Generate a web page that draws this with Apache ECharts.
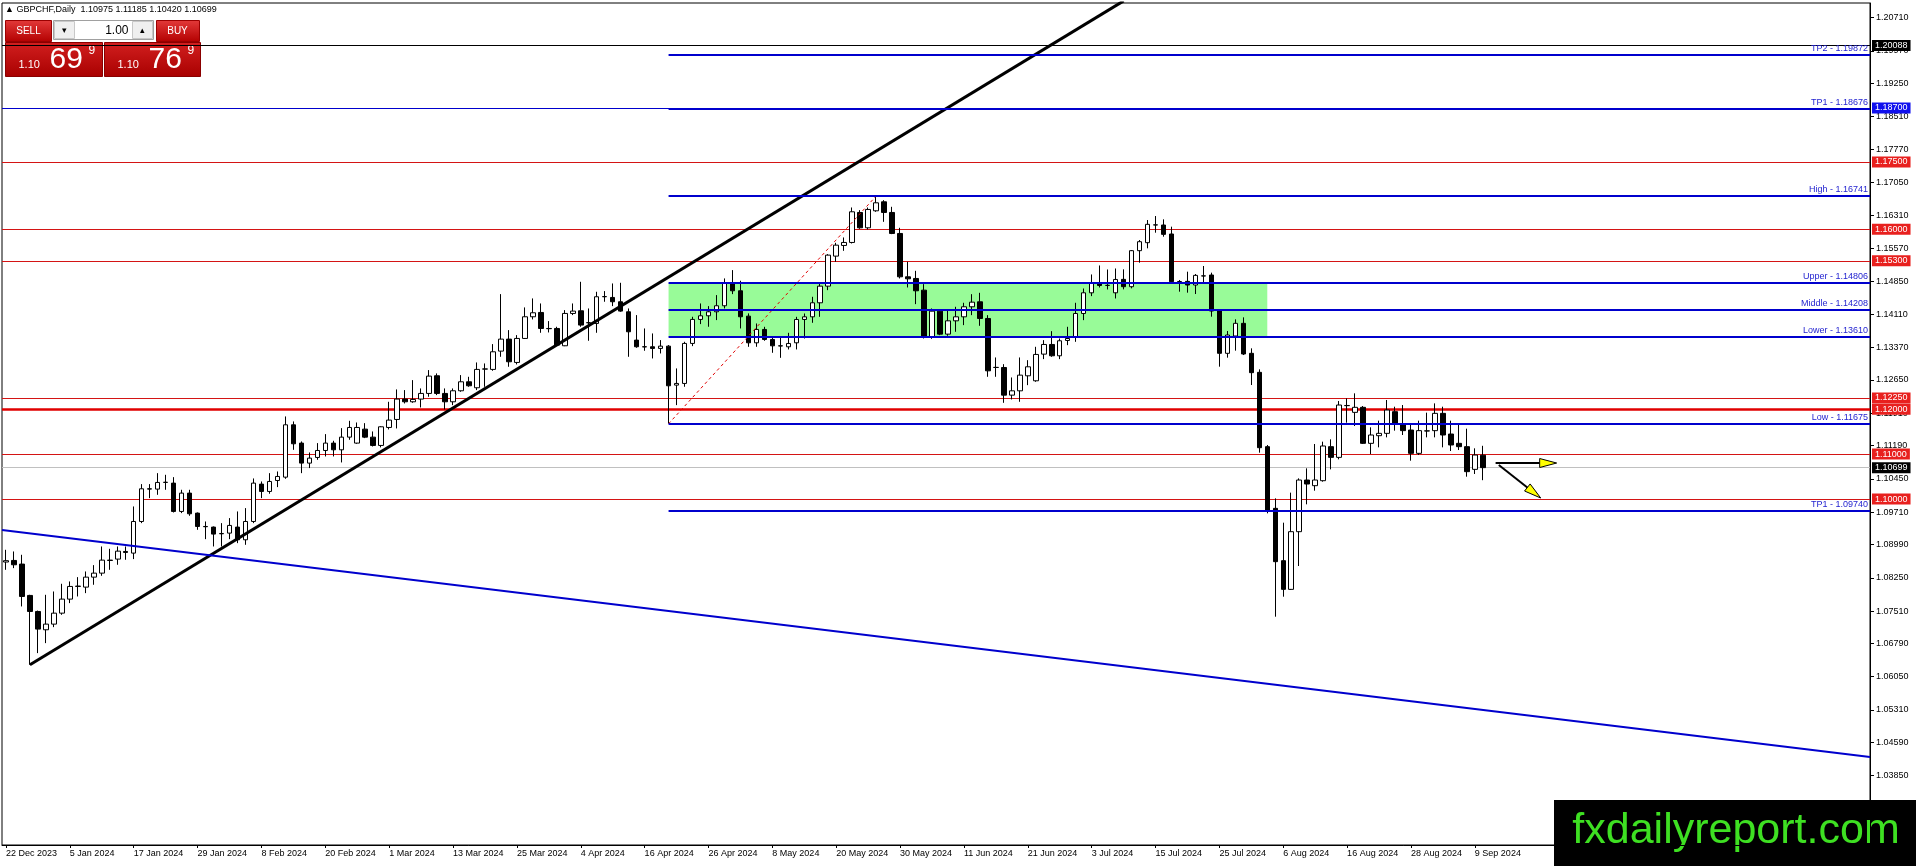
<!DOCTYPE html>
<html><head><meta charset="utf-8">
<script src="https://cdn.jsdelivr.net/npm/echarts@6.0.0/dist/echarts.min.js"></script>
<style>html,body{margin:0;padding:0;background:#fff;overflow:hidden}#c{width:1916px;height:866px}</style>
</head><body><div id="c"></div>
<script>
const symbolName = 'GBPCHF,Daily';
const lastOHLC = [1.10975, 1.11185, 1.10420, 1.10699];
const sellQuote = ['1.10', '69', '9'];
const buyQuote = ['1.10', '76', '9'];
const lotSize = '1.00';
const tickLabels = ['22 Dec 2023','5 Jan 2024','17 Jan 2024','29 Jan 2024','8 Feb 2024','20 Feb 2024','1 Mar 2024','13 Mar 2024','25 Mar 2024','4 Apr 2024','16 Apr 2024','26 Apr 2024','8 May 2024','20 May 2024','30 May 2024','11 Jun 2024','21 Jun 2024','3 Jul 2024','15 Jul 2024','25 Jul 2024','6 Aug 2024','16 Aug 2024','28 Aug 2024','9 Sep 2024'];
const priceTicks = [1.20710,1.19970,1.19250,1.18510,1.17770,1.17050,1.16310,1.15570,1.14850,1.14110,1.13370,1.12650,1.11910,1.11190,1.10450,1.09710,1.08990,1.08250,1.07510,1.06790,1.06050,1.05310,1.04590,1.03850];

const opens = [1.08600,1.08635,1.08554,1.07857,1.07500,1.07093,1.07219,1.07463,1.07775,1.08057,1.08042,1.08264,1.08353,1.08642,1.08665,1.08835,1.08798,1.09502,1.10229,1.10222,1.10370,1.10355,1.09725,1.10133,1.09688,1.09391,1.09377,1.09228,1.09243,1.09377,1.09095,1.09502,1.10333,1.10170,1.10414,1.10488,1.11652,1.11245,1.10800,1.10926,1.11081,1.11245,1.11096,1.11378,1.11245,1.11556,1.11378,1.11193,1.11593,1.11771,1.12224,1.12164,1.12224,1.12350,1.12743,1.12350,1.12164,1.12409,1.12609,1.12476,1.12891,1.12884,1.13291,1.13558,1.13039,1.13573,1.14055,1.14151,1.13795,1.13795,1.13410,1.14129,1.14188,1.13921,1.13907,1.14500,1.14485,1.14389,1.14166,1.13536,1.13388,1.13388,1.13351,1.13402,1.12535,1.12572,1.13462,1.13996,1.14077,1.14166,1.14300,1.14796,1.14633,1.14069,1.13476,1.13773,1.13550,1.13409,1.13387,1.13476,1.13995,1.14054,1.14366,1.14736,1.15404,1.15641,1.15708,1.16375,1.16034,1.16412,1.16612,1.16375,1.15908,1.14944,1.14907,1.14647,1.13609,1.14180,1.13669,1.13965,1.14054,1.14277,1.14388,1.14017,1.12927,1.12927,1.12312,1.12408,1.12742,1.12631,1.13224,1.13439,1.13187,1.13528,1.13609,1.14128,1.14588,1.14796,1.14751,1.14588,1.14887,1.14724,1.15525,1.15703,1.16096,1.16096,1.15896,1.14836,1.14843,1.14761,1.14962,1.14984,1.14191,1.13242,1.13627,1.13909,1.13242,1.12819,1.11166,1.09794,1.08630,1.07992,1.09275,1.10424,1.10298,1.10409,1.11166,1.10928,1.12078,1.11929,1.12041,1.11240,1.11410,1.11462,1.11944,1.11670,1.11536,1.11017,1.11514,1.11522,1.11907,1.11447,1.11240,1.11166,1.10661,1.10975];
const closes = [1.08630,1.08539,1.07834,1.07500,1.07108,1.07219,1.07463,1.07775,1.08057,1.08065,1.08264,1.08353,1.08642,1.08635,1.08842,1.08813,1.09502,1.10229,1.10222,1.10370,1.10375,1.09725,1.10133,1.09673,1.09391,1.09385,1.09221,1.09235,1.09414,1.09095,1.09502,1.10355,1.10170,1.10392,1.10503,1.11652,1.11230,1.10800,1.10911,1.11081,1.11245,1.11096,1.11378,1.11593,1.11593,1.11378,1.11193,1.11608,1.11757,1.12224,1.12164,1.12216,1.12350,1.12735,1.12350,1.12164,1.12409,1.12609,1.12520,1.12884,1.12895,1.13276,1.13558,1.13054,1.13573,1.14055,1.14144,1.13795,1.13790,1.13425,1.14129,1.14181,1.13870,1.13925,1.14500,1.14505,1.14389,1.14181,1.13721,1.13388,1.13385,1.13351,1.13402,1.12520,1.12572,1.13462,1.13996,1.14077,1.14166,1.14300,1.14796,1.14633,1.14055,1.13476,1.13773,1.13550,1.13409,1.13405,1.13461,1.13995,1.14054,1.14366,1.14736,1.15426,1.15648,1.15708,1.16390,1.16034,1.16442,1.16590,1.16375,1.15908,1.14944,1.14899,1.14633,1.13609,1.14180,1.13669,1.13965,1.14054,1.14277,1.14380,1.14017,1.12853,1.12930,1.12312,1.12408,1.12757,1.12942,1.13217,1.13439,1.13187,1.13521,1.13572,1.14128,1.14588,1.14810,1.14751,1.14755,1.14885,1.14724,1.15525,1.15725,1.16111,1.16100,1.15888,1.14836,1.14840,1.14761,1.14976,1.14965,1.14183,1.13242,1.13649,1.13909,1.13227,1.12812,1.11143,1.09742,1.08608,1.07992,1.09275,1.10424,1.10335,1.10424,1.11181,1.10928,1.12092,1.12082,1.12041,1.11240,1.11425,1.11462,1.11981,1.11670,1.11522,1.11017,1.11522,1.11518,1.11907,1.11425,1.11203,1.11166,1.10610,1.10980,1.10699];
const lows = [1.08427,1.08464,1.07612,1.06314,1.06574,1.06796,1.07152,1.07426,1.07686,1.07834,1.07908,1.08094,1.08294,1.08427,1.08539,1.08650,1.08665,1.09465,1.10021,1.10095,1.10207,1.09702,1.09688,1.09628,1.09317,1.09109,1.08946,1.08946,1.09109,1.09020,1.08983,1.09465,1.10021,1.10118,1.10266,1.10451,1.11096,1.10577,1.10689,1.10874,1.10948,1.10948,1.10815,1.11319,1.11230,1.11356,1.11170,1.11150,1.11549,1.11571,1.12127,1.12142,1.12038,1.12276,1.12313,1.11994,1.12090,1.12387,1.12498,1.12424,1.12498,1.12854,1.13165,1.12943,1.12995,1.13560,1.13996,1.13699,1.13706,1.13402,1.13402,1.14092,1.13833,1.13521,1.13699,1.14389,1.14292,1.14166,1.13165,1.13365,1.13299,1.13128,1.13239,1.11682,1.12090,1.12498,1.13402,1.13892,1.13833,1.13981,1.14240,1.14559,1.13795,1.13387,1.13387,1.13521,1.13254,1.13142,1.13328,1.13328,1.13572,1.13921,1.14054,1.14647,1.15278,1.15522,1.15685,1.16012,1.15997,1.16390,1.16167,1.15893,1.14907,1.14707,1.14336,1.13572,1.13565,1.13646,1.13632,1.13721,1.13869,1.14091,1.13854,1.12720,1.12720,1.12141,1.12216,1.12164,1.12534,1.12609,1.13113,1.13165,1.13113,1.13424,1.13498,1.13980,1.14514,1.14707,1.14662,1.14462,1.14665,1.14687,1.15258,1.15577,1.15925,1.15836,1.14813,1.14613,1.14591,1.14561,1.14813,1.14057,1.12945,1.13145,1.13301,1.13204,1.12537,1.11032,1.09683,1.07384,1.07829,1.07978,1.08511,1.09883,1.10187,1.10387,1.10661,1.10884,1.11699,1.11625,1.11225,1.11003,1.11151,1.11373,1.11522,1.11425,1.10854,1.10980,1.11373,1.11373,1.11151,1.11069,1.11091,1.10498,1.10558,1.10420];
const highs = [1.08872,1.08835,1.08761,1.07871,1.07520,1.07871,1.07945,1.08116,1.08168,1.08264,1.08390,1.08531,1.08946,1.08894,1.08946,1.08946,1.09836,1.10333,1.10333,1.10577,1.10540,1.10488,1.10207,1.10207,1.09702,1.09502,1.09391,1.09465,1.09577,1.09725,1.09799,1.10459,1.10392,1.10577,1.10614,1.11838,1.11727,1.11282,1.11037,1.11245,1.11445,1.11297,1.11578,1.11741,1.11704,1.11689,1.11504,1.11620,1.12164,1.12439,1.12424,1.12646,1.12461,1.12869,1.12795,1.12461,1.12461,1.12758,1.12720,1.13039,1.13017,1.13447,1.14559,1.13758,1.13647,1.14263,1.14463,1.14351,1.13959,1.13833,1.14203,1.14351,1.14833,1.14240,1.14611,1.14626,1.14796,1.14811,1.14240,1.14092,1.13795,1.13684,1.13536,1.13425,1.12906,1.13499,1.14055,1.14351,1.14292,1.14537,1.14908,1.15093,1.14856,1.14130,1.13906,1.13832,1.13606,1.13606,1.13698,1.14054,1.14128,1.14499,1.14796,1.15448,1.15700,1.15819,1.16486,1.16427,1.16486,1.16738,1.16649,1.16501,1.16034,1.15278,1.15077,1.14781,1.14240,1.14188,1.14188,1.14277,1.14366,1.14558,1.14588,1.14091,1.13150,1.13001,1.12705,1.13150,1.13090,1.13387,1.13535,1.13735,1.13572,1.13832,1.14366,1.14684,1.14996,1.15196,1.15107,1.15129,1.15110,1.15540,1.15762,1.16207,1.16296,1.16222,1.16059,1.14873,1.15058,1.15006,1.15184,1.15036,1.14220,1.13738,1.13998,1.14042,1.13353,1.12886,1.11203,1.10016,1.09475,1.10143,1.10461,1.10684,1.11225,1.11277,1.11329,1.12181,1.12241,1.12352,1.12070,1.11596,1.11744,1.12204,1.12055,1.12092,1.11670,1.11744,1.11922,1.12129,1.12055,1.11744,1.11670,1.11566,1.11129,1.11185];

const redLevels = [1.17500, 1.16000, 1.15300, 1.12250, 1.11000, 1.10000];
const strongRedLevel = 1.12000;
const blackLevel = 1.20088;
const blueLevel = 1.18700;
const bidPrice = 1.10699;
const fibNames = ['TP2', 'TP1', 'High', 'Upper', 'Middle', 'Lower', 'Low', 'TP1'];
const fibValues = [1.19872, 1.18676, 1.16741, 1.14806, 1.14208, 1.13610, 1.11675, 1.09740];
const fibAnchor = [[83, 1.11675], [109, 1.16741]];
const zoneX = [83, 158];
const zoneY = [1.13610, 1.14806];
const riseTrend = [[3, 1.06314], [140, 1.21081]];
const fallTrend = [[-0.5, 1.09312], [233.5, 1.04265]];
const arrows = [[186.6, 1.10802, 194.25, 1.10802], [187, 1.10758, 192.25, 1.10024]];
const totalSlots = 234;
const yMin = 1.02306, yMax = 1.21034;

const FONT = "'Liberation Sans', Arial, sans-serif";
const categories = Array.from({length: totalSlots}, (_, i) => String(i));
const showTick = (i) => i % 8 === 0 && i / 8 < tickLabels.length;
const candles = opens.map((o, i) => [o, closes[i], lows[i], highs[i]]);
const xMax = totalSlots - 0.5;

function box(bg) {
  return {show: true, position: 'end', distance: 2, formatter: p => Number(p.value).toFixed(5),
    color: '#fff', backgroundColor: bg, padding: [1, 3, 0, 3], fontSize: 9, fontFamily: FONT, lineHeight: 10};
}
const fullLines = [];
redLevels.forEach(v => fullLines.push({yAxis: v, lineStyle: {color: '#d41414', width: 1, type: 'solid'}, label: box('#e8201e')}));
fullLines.push({yAxis: strongRedLevel, lineStyle: {color: '#e00000', width: 2.5, type: 'solid'}, label: box('#e8201e')});
fullLines.push({yAxis: blackLevel, lineStyle: {color: '#000', width: 1, type: 'solid'}, label: box('#000')});
fullLines.push({yAxis: blueLevel, lineStyle: {color: '#0000cd', width: 1, type: 'solid'}, label: box('#1010ee')});
fullLines.push({yAxis: bidPrice, lineStyle: {color: '#c0c0c0', width: 1, type: 'solid'}, label: box('#000')});

const fibLines = fibValues.map((v, i) => [
  {name: fibNames[i] + ' - ' + v.toFixed(5), coord: [fibAnchor[0][0], v]},
  {coord: [xMax, v]}
]);

const chart = echarts.init(document.getElementById('c'), null, {renderer: 'canvas'});
const G = echarts.graphic;
const redGrad = () => new G.LinearGradient(0, 0, 0, 1, [{offset: 0, color: '#e33a3a'}, {offset: 1, color: '#b30000'}]);
const bigGrad = () => new G.LinearGradient(0, 0, 0, 1, [{offset: 0, color: '#d21f1f'}, {offset: 1, color: '#a80000'}]);

chart.setOption({
  animation: false,
  backgroundColor: '#fff',
  grid: {left: 2, right: 46, top: 3, bottom: 21, show: true, borderColor: '#000', borderWidth: 1, backgroundColor: '#fff'},
  xAxis: [{
    type: 'category', data: categories, boundaryGap: true,
    axisLine: {show: true, lineStyle: {color: '#000'}},
    axisTick: {show: true, alignWithLabel: true, interval: (i) => showTick(i), length: 3, lineStyle: {color: '#000'}},
    axisLabel: {interval: (i) => showTick(i), formatter: (v, i) => tickLabels[i / 8] || '', align: 'left', margin: 4,
      fontSize: 9, color: '#000', fontFamily: FONT, hideOverlap: false},
    splitLine: {show: false}
  }, {
    type: 'value', min: -0.5, max: xMax, show: false
  }],
  yAxis: [{
    type: 'value', position: 'right', min: yMin, max: yMax, scale: true,
    axisLine: {show: true, onZero: false, lineStyle: {color: '#000'}},
    axisTick: {show: true, customValues: priceTicks, length: 4, lineStyle: {color: '#000'}},
    axisLabel: {customValues: priceTicks, formatter: v => v.toFixed(5), fontSize: 9, margin: 6, color: '#000', fontFamily: FONT},
    splitLine: {show: false}
  }],
  series: [
    {
      name: 'zone', type: 'line', xAxisIndex: 1, yAxisIndex: 0, z: 0, silent: true,
      data: [[zoneX[0], zoneY[0]]], showSymbol: false, symbol: 'none', lineStyle: {opacity: 0},
      markArea: {silent: true, itemStyle: {color: '#98fb98', opacity: 1},
        data: [[{coord: [zoneX[0], zoneY[1]]}, {coord: [zoneX[1], zoneY[0]]}]]}
    },
    {
      name: 'candles', type: 'candlestick', xAxisIndex: 0, yAxisIndex: 0, z: 2,
      data: candles, barWidth: 5,
      itemStyle: {color: '#fff', color0: '#000', borderColor: '#000', borderColor0: '#000', borderWidth: 1},
      markLine: {silent: true, symbol: ['none', 'none'], precision: 5, data: fullLines, z: 1}
    },
    {
      name: 'fib', type: 'line', xAxisIndex: 1, yAxisIndex: 0, z: 3, silent: true,
      data: fibAnchor, symbol: 'none', lineStyle: {color: '#e00000', width: 1, type: [3, 3]},
      markLine: {silent: true, symbol: ['none', 'none'],
        lineStyle: {color: '#0000cd', width: 2, type: 'solid'},
        label: {show: true, position: 'insideEndTop', formatter: '{b}', color: '#2424d0', fontSize: 9, fontFamily: FONT, distance: 2},
        data: fibLines}
    },
    {
      name: 'rise', type: 'line', xAxisIndex: 1, yAxisIndex: 0, z: 4, silent: true, clip: true,
      data: riseTrend, symbol: 'none', lineStyle: {color: '#000', width: 3}
    },
    {
      name: 'fall', type: 'line', xAxisIndex: 1, yAxisIndex: 0, z: 4, silent: true, clip: true,
      data: fallTrend, symbol: 'none', lineStyle: {color: '#0000cd', width: 2}
    },
    {
      name: 'arrows', type: 'custom', xAxisIndex: 1, yAxisIndex: 0, z: 5, silent: true,
      encode: {x: [0, 2], y: [1, 3]},
      data: arrows,
      renderItem: (params, api) => {
        const p0 = api.coord([api.value(0), api.value(1)]);
        const p1 = api.coord([api.value(2), api.value(3)]);
        const dx = p1[0] - p0[0], dy = p1[1] - p0[1];
        const len = Math.hypot(dx, dy) || 1;
        const ux = dx / len, uy = dy / len, nx = -uy, ny = ux;
        const hl = 17, hw = 4.5;
        const b = [p1[0] - ux * hl, p1[1] - uy * hl];
        return {type: 'group', children: [
          {type: 'line', shape: {x1: p0[0], y1: p0[1], x2: b[0] + ux * 2, y2: b[1] + uy * 2}, style: {stroke: '#000', lineWidth: 2}},
          {type: 'polygon', shape: {points: [p1, [b[0] + nx * hw, b[1] + ny * hw], [b[0] - nx * hw, b[1] - ny * hw]]},
            style: {fill: '#ffff00', stroke: '#000', lineWidth: 1}}
        ]};
      }
    }
  ],
  graphic: [
    {type: 'text', left: 5, top: 5, z: 100, style: {text: '\u25B2 ' + symbolName + '  ' + lastOHLC.map(v => v.toFixed(5)).join(' '), font: '9px ' + FONT, fill: '#000'}},
    {type: 'group', left: 5, top: 20, z: 100, children: [
      {type: 'rect', shape: {x: 0, y: 0, width: 46, height: 21}, style: {fill: redGrad(), stroke: '#9a0000', lineWidth: 1}},
      {type: 'text', style: {text: 'SELL', x: 23, y: 11, align: 'center', verticalAlign: 'middle', font: '10px ' + FONT, fill: '#fff'}},
      {type: 'rect', shape: {x: 48, y: 0, width: 100, height: 19}, style: {fill: '#fff', stroke: '#a0a0a0', lineWidth: 1}},
      {type: 'rect', shape: {x: 49, y: 1, width: 20, height: 17}, style: {fill: '#efefef', stroke: '#c8c8c8', lineWidth: 1}},
      {type: 'text', style: {text: '\u25BE', x: 59, y: 10, align: 'center', verticalAlign: 'middle', font: '9px ' + FONT, fill: '#000'}},
      {type: 'rect', shape: {x: 127, y: 1, width: 20, height: 17}, style: {fill: '#efefef', stroke: '#c8c8c8', lineWidth: 1}},
      {type: 'text', style: {text: '\u25B4', x: 137, y: 10, align: 'center', verticalAlign: 'middle', font: '9px ' + FONT, fill: '#000'}},
      {type: 'text', style: {text: lotSize, x: 123, y: 10, align: 'right', verticalAlign: 'middle', font: '12px ' + FONT, fill: '#000'}},
      {type: 'rect', shape: {x: 151, y: 0, width: 43, height: 21}, style: {fill: redGrad(), stroke: '#9a0000', lineWidth: 1}},
      {type: 'text', style: {text: 'BUY', x: 172, y: 11, align: 'center', verticalAlign: 'middle', font: '10px ' + FONT, fill: '#fff'}},
      {type: 'rect', shape: {x: 0, y: 22, width: 97, height: 34}, style: {fill: bigGrad(), stroke: '#8a0000', lineWidth: 1}},
      {type: 'text', style: {text: sellQuote[0], x: 13, y: 50, align: 'left', verticalAlign: 'bottom', font: '11px ' + FONT, fill: '#fff'}},
      {type: 'text', style: {text: sellQuote[1], x: 44, y: 54, align: 'left', verticalAlign: 'bottom', font: '30px ' + FONT, fill: '#fff'}},
      {type: 'text', style: {text: sellQuote[2], x: 83, y: 24, align: 'left', verticalAlign: 'top', font: '12px ' + FONT, fill: '#fff'}},
      {type: 'rect', shape: {x: 99, y: 22, width: 96, height: 34}, style: {fill: bigGrad(), stroke: '#8a0000', lineWidth: 1}},
      {type: 'text', style: {text: buyQuote[0], x: 112, y: 50, align: 'left', verticalAlign: 'bottom', font: '11px ' + FONT, fill: '#fff'}},
      {type: 'text', style: {text: buyQuote[1], x: 143, y: 54, align: 'left', verticalAlign: 'bottom', font: '30px ' + FONT, fill: '#fff'}},
      {type: 'text', style: {text: buyQuote[2], x: 182, y: 24, align: 'left', verticalAlign: 'top', font: '12px ' + FONT, fill: '#fff'}}
    ]},
    {type: 'group', right: 0, bottom: 0, z: 100, children: [
      {type: 'rect', shape: {x: 0, y: 0, width: 362, height: 66}, style: {fill: '#000'}},
      {type: 'text', style: {text: 'fxdailyreport.com', x: 182, y: 31, align: 'center', verticalAlign: 'middle', font: '43px ' + FONT, fill: '#3ee022'}}
    ]}
  ]
});
</script>
</body></html>
